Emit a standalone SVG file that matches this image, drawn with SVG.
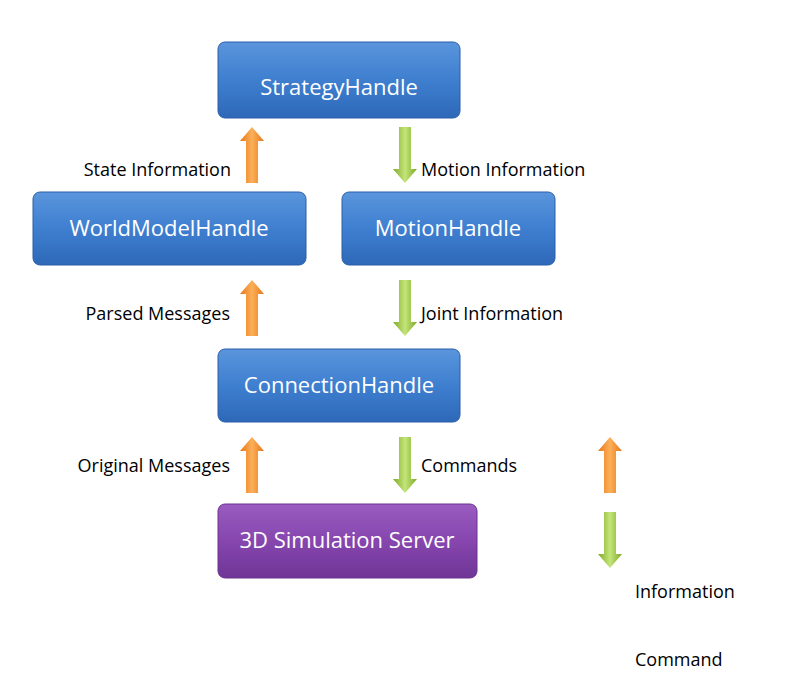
<svg xmlns="http://www.w3.org/2000/svg" width="803" height="690" viewBox="0 0 803 690">
<defs>
<linearGradient id="blue" x1="0" y1="0" x2="0" y2="1"><stop offset="0" stop-color="#5a95dc"/><stop offset="0.5" stop-color="#3f7fd0"/><stop offset="1" stop-color="#2e68b8"/></linearGradient>
<linearGradient id="purple" x1="0" y1="0" x2="0" y2="1"><stop offset="0" stop-color="#9a5cc0"/><stop offset="0.5" stop-color="#8646ae"/><stop offset="1" stop-color="#6f3596"/></linearGradient>
<linearGradient id="orange" x1="0" y1="0" x2="1" y2="0"><stop offset="0" stop-color="#e87618"/><stop offset="0.5" stop-color="#fbb05a"/><stop offset="1" stop-color="#e87618"/></linearGradient>
<linearGradient id="green" x1="0" y1="0" x2="1" y2="0"><stop offset="0" stop-color="#7eaa26"/><stop offset="0.5" stop-color="#c4e57a"/><stop offset="1" stop-color="#7eaa26"/></linearGradient>
<path id="up" d="M-6,28 L-6,-14 L-12,-14 L0,-28 L12,-14 L6,-14 L6,28 Z"/>
<path id="down" d="M-6,-28 L-6,14 L-12,14 L0,28 L12,14 L6,14 L6,-28 Z"/>
</defs>
<style>
.box{stroke:#2a5fa8;stroke-width:1}
.pbox{stroke:#6a3390;stroke-width:1}
.bt{font-family:"Open Sans","Liberation Sans",sans-serif;font-size:22px;fill:#fff;text-anchor:middle}
.lt{font-family:"Open Sans","Liberation Sans",sans-serif;font-size:18px;fill:#000}
.end{text-anchor:end}
</style>
<g id="strategy"><rect class="box" x="218" y="42" width="242" height="76" rx="7" fill="url(#blue)"/><text class="bt" x="339" y="95">StrategyHandle</text></g>
<g id="worldmodel"><rect class="box" x="33" y="192" width="273" height="73" rx="7" fill="url(#blue)"/><text class="bt" x="169" y="236">WorldModelHandle</text></g>
<g id="motion"><rect class="box" x="342" y="192" width="213" height="73" rx="7" fill="url(#blue)"/><text class="bt" x="448" y="236">MotionHandle</text></g>
<g id="connection"><rect class="box" x="218" y="349" width="242" height="73" rx="7" fill="url(#blue)"/><text class="bt" x="339" y="393">ConnectionHandle</text></g>
<g id="server"><rect class="pbox" x="218" y="504" width="259" height="74" rx="7" fill="url(#purple)"/><text class="bt" x="347" y="548">3D Simulation Server</text></g>
<g id="connectors">
<use href="#up" x="252" y="155" fill="url(#orange)"/>
<use href="#down" x="405" y="155" fill="url(#green)"/>
<use href="#up" x="252" y="308" fill="url(#orange)"/>
<use href="#down" x="405" y="308" fill="url(#green)"/>
<use href="#up" x="252" y="465" fill="url(#orange)"/>
<use href="#down" x="405" y="465" fill="url(#green)"/>
<use href="#up" x="610" y="465" fill="url(#orange)"/>
<use href="#down" x="610" y="540" fill="url(#green)"/>
</g>
<g id="labels">
<text class="lt end" x="231" y="176">State Information</text>
<text class="lt" x="421" y="176">Motion Information</text>
<text class="lt end" x="230" y="320">Parsed Messages</text>
<text class="lt" x="421" y="320">Joint Information</text>
<text class="lt end" x="230" y="472">Original Messages</text>
<text class="lt" x="421" y="472">Commands</text>
<text class="lt" x="635" y="598">Information</text>
<text class="lt" x="635" y="666">Command</text>
</g>
</svg>
